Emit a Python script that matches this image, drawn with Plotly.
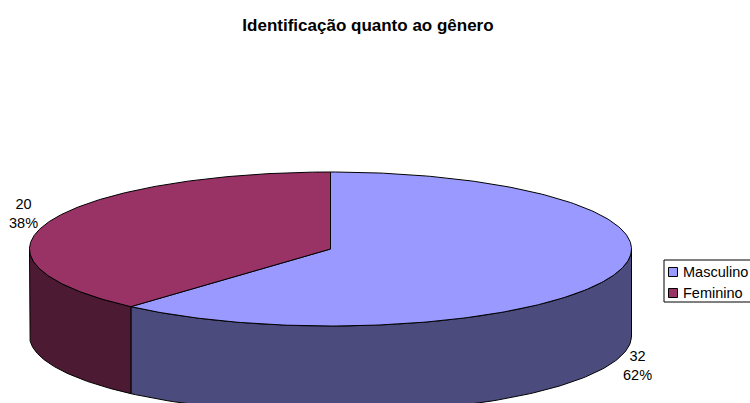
import numpy as np
import plotly.graph_objects as go

# ---- data ----
categories = ["Masculino", "Feminino"]
values = [32, 20]
top_colors = ["#9999FF", "#993366"]
side_colors = ["#4B4B7E", "#4C1A33"]
title = "Identificação quanto ao gênero"

# ---- geometry (pixel space) ----
W, H = 750, 403
cx, cy, rx, ry, depth = 330.5, 249, 301, 77, 87
FONT = "Liberation Sans, Arial, sans-serif"

total = sum(values)
fracs = [v / total for v in values]
starts = np.cumsum([0] + fracs[:-1]) * 360
ends = starts + np.array(fracs) * 360


def pt(deg, dy=0.0):
    t = np.radians(deg)
    return cx + rx * np.sin(t), cy - ry * np.cos(t) + dy


fig = go.Figure()

# side faces (front half: 90..270 deg clockwise from top)
for i, cat in enumerate(categories):
    a, b = max(starts[i], 90), min(ends[i], 270)
    if b <= a:
        continue
    angs = np.linspace(a, b, 120)
    xs_t, ys_t = pt(angs)
    xs_b, ys_b = pt(angs[::-1], depth)
    xs = list(xs_t) + list(xs_b) + [xs_t[0]]
    ys = list(ys_t) + list(ys_b) + [ys_t[0]]
    fig.add_trace(go.Scatter(x=xs, y=ys, fill="toself", fillcolor=side_colors[i],
                             mode="lines", line=dict(color="black", width=1),
                             showlegend=False, hoverinfo="skip"))

# top faces
for i, cat in enumerate(categories):
    angs = np.linspace(starts[i], ends[i], 240)
    xs, ys = pt(angs)
    xs = [cx] + list(xs) + [cx]
    ys = [cy] + list(ys) + [cy]
    fig.add_trace(go.Scatter(x=xs, y=ys, fill="toself", fillcolor=top_colors[i],
                             mode="lines", line=dict(color="black", width=1),
                             showlegend=False, hoverinfo="skip"))

# data labels
for i, cat in enumerate(categories):
    mid = (starts[i] + ends[i]) / 2
    t = np.radians(mid)
    lx = cx + rx * 1.09 * np.sin(t)
    ly = cy - ry * 1.2 * np.cos(t) - 3
    if np.cos(t) < 0:
        ly += depth
    pct = round(fracs[i] * 100)
    fig.add_annotation(x=lx, y=ly, text=f"{values[i]}<br>{pct}%", showarrow=False,
                       font=dict(family=FONT, size=14.5, color="black"), align="center")

# legend (drawn in pixel space)
lg_x0, lg_y0, lg_y1, lg_row = 664, 260, 302, 21
fig.add_shape(type="rect", x0=lg_x0, y0=lg_y0, x1=W + 20, y1=lg_y1,
              line=dict(color="black", width=1), fillcolor="white", layer="below")
for i, cat in enumerate(categories):
    yy = lg_y0 + 12 + i * lg_row
    fig.add_trace(go.Scatter(x=[lg_x0 + 9], y=[yy], mode="markers", name=cat,
                             marker=dict(symbol="square", size=9, color=top_colors[i],
                                         line=dict(color="black", width=1)),
                             showlegend=False, hoverinfo="skip"))
    fig.add_annotation(x=lg_x0 + 17, y=yy, text=cat, showarrow=False, xanchor="left",
                       yanchor="middle", font=dict(family=FONT, size=14.5, color="black"))

fig.update_layout(
    width=W, height=H,
    margin=dict(l=0, r=0, t=0, b=0, autoexpand=False),
    paper_bgcolor="white", plot_bgcolor="white",
    title=dict(text=f"<b>{title}</b>", x=368 / W, xanchor="center", y=1 - 25 / H,
               yanchor="middle", font=dict(family=FONT, size=17, color="black")),
    xaxis=dict(range=[0, W], visible=False, fixedrange=True),
    yaxis=dict(range=[H, 0], visible=False, fixedrange=True),
    showlegend=False,
)

fig.write_html("out.html", config={"displayModeBar": False},
               post_script="document.body.style.margin='0';document.body.style.overflow='hidden';")
